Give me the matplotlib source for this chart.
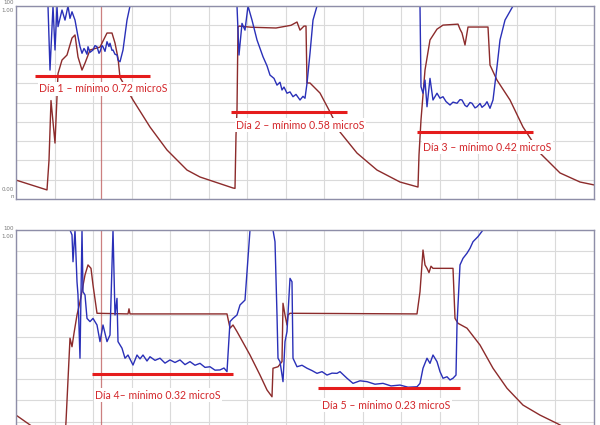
import matplotlib
matplotlib.use("Agg")
import matplotlib.pyplot as plt
import numpy as np

# ------------------ data ------------------ #
# x = elapsed time (min), y = reading in % of full scale (100 = 1.00)

top_brown_t = [0, 31, 33, 35, 39, 42, 46, 51, 56, 59, 62, 66, 69, 74, 84, 91, 96, 99, 102, 104,
               117, 134, 151, 171, 184, 217, 219, 220, 221, 222, 223, 235, 260, 275, 281, 284,
               288, 290, 291, 294, 304, 314, 324, 341, 361, 384, 402, 403, 405, 409, 414, 421,
               427, 442, 444, 446, 449, 452, 472, 474, 481, 494, 507, 524, 544, 564, 578]
top_brown_v = [9.8, 4.7, 20, 51, 29, 65, 72, 74.6, 83.4, 85, 73.6, 66.8, 70.4, 77.2, 78.7, 86, 86, 80.8, 73, 63,
               51.3, 37.3, 25.4, 15, 11.4, 5.7, 5.5, 33, 46, 89, 89.6, 89, 88.6, 90, 91.7, 87.5,
               89.6, 89.6, 60.1, 60.1, 54.9, 45.1, 34.7, 23.8, 15, 8.8, 6.2, 22.8, 41, 66.8, 82.4, 88,
               90.1, 90.6, 88, 86, 79.8, 89.1, 89.1, 69.4, 61.6, 51.3, 37.3, 23.8, 13.5, 8.8, 7.3]

top_blue_t = [0, 32, 34, 37, 39, 41, 42, 46, 49, 52, 54, 56, 59, 62, 64, 66, 68, 69, 71, 72, 74, 77,
              79, 81, 83, 84, 86, 87, 89, 91, 93, 94, 96, 97, 99, 101, 102, 104, 107, 111, 114,
              219, 221, 223, 226, 229, 232, 236, 241, 247, 251, 254, 258, 261, 264, 266, 268, 271,
              274, 277, 280, 284, 287, 289, 291, 294, 297, 301,
              404, 405, 407, 409, 411, 414, 417, 421, 424, 427, 430, 434, 437, 441, 444, 446, 449,
              451, 454, 456, 459, 461, 464, 466, 469, 471, 474, 477, 481, 484, 489, 497, 578]
top_blue_v = [100, 100, 66.8, 100, 77.2, 100, 89.3, 97.9, 92.7, 100, 93.6, 97, 92.7, 84.1, 79, 75.5, 78, 77.2, 75, 78.9, 76, 77.2,
              79.5, 78.9, 75.5, 76.3, 79.5, 78.9, 76.5, 81.5, 79, 80.7, 77, 77.2, 75, 74.6, 72, 71.1, 77.2, 92.7, 100,
              100, 100, 74.6, 91, 87.5, 100, 92.7, 82.4, 73.7, 69, 64.2, 62.5, 59, 60.5, 56.5, 58, 54.8,
              55.5, 53, 54.2, 51.3, 53.2, 52.2, 59.9, 75.5, 92.7, 100,
              100, 58.2, 54.8, 61.6, 47.8, 62.5, 51.3, 54.8, 52.2, 53, 50.5, 48.7, 50.2, 49.6, 51.5, 51.3, 48.5,
              47.8, 50, 49.6, 47.2, 47.8, 49.5, 47.5, 48.8, 50.4, 47, 51.3, 68.5, 82.4, 92.7, 100, 100]

bot_brown_t = [0, 17, 40, 49, 50, 54, 56, 58, 61, 64, 69, 72, 75, 77, 81, 112, 113, 114, 115, 211,
               214, 217, 221, 234, 244, 251, 256, 257, 262, 266, 267, 269, 271, 272, 274, 401,
               404, 407, 409, 411, 413, 415, 417, 437, 439, 442, 451, 464, 477, 491, 507, 524, 541, 560, 578]
bot_brown_v = [13.1, 7.5, 4, 2.5, 10, 49.2, 45.2, 51.5, 60.1, 66.3, 78.9, 83.6, 82, 74.2, 60.9, 60.6, 63, 60.6, 60.6, 60.6,
               53.9, 55.4, 52.3, 41.3, 31.9, 24.9, 21.7, 35.1, 35.8, 38.2, 65.6, 60.1, 55.4, 60.1, 60.9, 60.6,
               71, 90.6, 83.6, 82, 80, 83, 82, 82, 58.5, 56.2, 53.9, 46, 35.1, 25.7, 17.8, 13.1, 9.2, 4.5, 1]

bot_blue_t = [0, 54, 56, 57, 59, 61, 62, 64, 66, 67, 69, 71, 74, 77, 81, 84, 87, 91, 94, 97, 99, 101,
              102, 106, 109, 112, 117, 121, 124, 127, 131, 134, 139, 144, 149, 154, 159, 164, 169, 174,
              179, 184, 189, 194, 199, 204, 208, 211, 214, 217, 221, 224, 229, 234, 257, 259, 261, 262,
              264, 267, 269, 271, 274, 276, 277, 281, 286, 291, 296, 301, 306, 311, 316, 321, 324,
              331, 337, 344, 351, 359, 367, 375, 384, 392, 401, 404, 407, 411, 414, 417, 421, 424, 427,
              431, 434, 437, 440, 441, 444, 447, 451, 454, 457, 462, 467, 578]
bot_blue_v = [100, 100, 97.7, 85.1, 100, 75.7, 69.5, 39.8, 100, 71, 69.5, 58.5, 57, 58.5, 55.4, 47.6, 55.4, 47.6, 50.7, 100, 60.1, 67.9,
              47.6, 44.5, 39.8, 41.3, 36.6, 41.3, 39.5, 41.3, 38.5, 40.5, 38.8, 39.8, 37.5, 39, 37.8, 39, 36.8, 38.2,
              36.5, 37.4, 35.5, 35.8, 34.2, 34.3, 35.2, 33.5, 57, 58.5, 60.1, 64.8, 67.1, 100, 100, 94.5, 60.1, 39.8,
              38.2, 28.8, 47.6, 52.3, 77.3, 75.7, 39.8, 35.8, 36.5, 35.1, 34, 32.7, 33.5, 31.9, 32.8, 32.7, 33.5,
              30.4, 28, 29.2, 28.8, 27.6, 28, 26.8, 27.2, 26.2, 26.4, 28, 35.1, 39.8, 37.4, 41.3, 38.2, 33.5, 30.4,
              31.1, 29.6, 30.4, 31.9, 55.4, 83.6, 86.7, 89.1, 91.4, 94.5, 96.9, 100, 100]

# daily minimum markers: (start, end, level) and label text
top_days = ["Día 1 – mínimo 0.72 microS", "Día 2 – mínimo 0.58 microS", "Día 3 – mínimo 0.42 microS"]
top_min_start = [19, 215, 401]
top_min_end = [134, 331, 517]
top_min_level = [63.7, 45.1, 34.7]
top_label_x = [23, 220, 407]
top_label_y = [57, 38.3, 26.9]

bot_days = ["Día 4– mínimo 0.32 microS", "Día 5 – mínimo 0.23 microS"]
bot_min_start = [76, 302]
bot_min_end = [217, 444]
bot_min_level = [32.4, 25.8]
bot_label_x = [79, 306]
bot_label_y = [22.5, 17.8]

cursor_t = 85
t_end = 578

BLUE = "#2a30b8"
BROWN = "#8c2b2b"
RED = "#e51c1c"
LABEL_RED = "#d3262a"


# ------------------ one logger panel ------------------ #
def draw_panel(ax, brown_t, brown_v, blue_t, blue_v, starts, ends, levels, days, lx, ly):
    ax.set_xlim(0, t_end)
    ax.set_ylim(0, 100)
    ax.set_xticks(np.linspace(0, t_end, 16))
    ax.set_yticks(np.linspace(0, 100, 11))
    ax.grid(color="#dadada", lw=0.8)
    ax.tick_params(length=0, labelbottom=False, labelleft=False)
    for s in ax.spines.values():
        s.set_color("#8e8ea8")
        s.set_linewidth(1.0)

    ax.axvline(cursor_t, color="#c06060", lw=0.9, alpha=0.8)
    ax.plot(brown_t, brown_v, color=BROWN, lw=1.0)
    ax.plot(blue_t, blue_v, color=BLUE, lw=1.0)

    for s, e, lv in zip(starts, ends, levels):
        ax.hlines(lv, s, e, color=RED, lw=2.2, zorder=4)
    # labels sit on a white patch that hides the traces behind them
    for txt, x, y in zip(days, lx, ly):
        ax.text(x, y, txt, color=LABEL_RED, fontsize=7.6, family="Lato",
                va="center", ha="left", zorder=5,
                bbox=dict(facecolor="white", edgecolor="none", pad=1.0))


fig = plt.figure(figsize=(6, 4.25), dpi=100)
ax_top = fig.add_axes([16 / 600, 226 / 425, 578 / 600, 193 / 425])
ax_bot = fig.add_axes([16 / 600, -18 / 425, 578 / 600, 213 / 425])

draw_panel(ax_top, top_brown_t, top_brown_v, top_blue_t, top_blue_v,
           top_min_start, top_min_end, top_min_level, top_days, top_label_x, top_label_y)
draw_panel(ax_bot, bot_brown_t, bot_brown_v, bot_blue_t, bot_blue_v,
           bot_min_start, bot_min_end, bot_min_level, bot_days, bot_label_x, bot_label_y)

# tiny scale labels on the left edge
small = dict(fontsize=4, color="#777777", ha="right", va="center")
fig.text(14 / 600, 1 - 3 / 425, "100", **small)
fig.text(14 / 600, 1 - 11 / 425, "1.00", **small)
fig.text(14 / 600, 1 - 190 / 425, "0.00", **small)
fig.text(14 / 600, 1 - 197 / 425, "n", **small)
fig.text(14 / 600, 1 - 228 / 425, "100", **small)
fig.text(14 / 600, 1 - 236 / 425, "1.00", **small)

fig.savefig("out.png", dpi=100, facecolor="white")
